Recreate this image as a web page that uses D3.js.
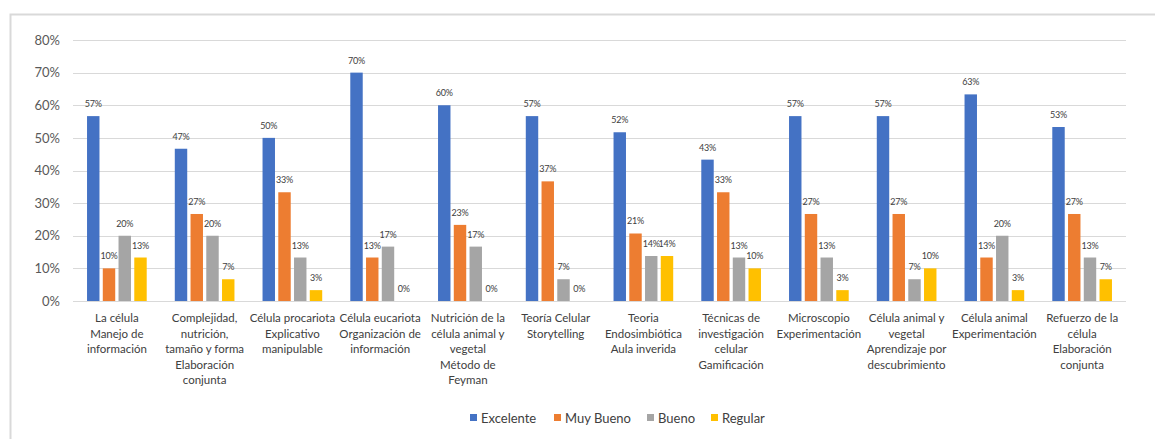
<!DOCTYPE html>
<html>
<head>
<meta charset="utf-8">
<script src="https://cdn.jsdelivr.net/npm/d3@7"></script>
<style>
  body { margin: 0; background: #fff; }
  svg { display: block; font-family: Lato, "Open Sans", sans-serif; }
</style>
</head>
<body>
<svg id="chart" width="1155" height="439"></svg>
<script>
// Category labels (line breaks as in the original)
const categories = [
    ["La célula", "Manejo de", "información"],
    ["Complejidad,", "nutrición,", "tamaño y forma", "Elaboración", "conjunta"],
    ["Célula procariota", "Explicativo", "manipulable"],
    ["Célula eucariota", "Organización de", "información"],
    ["Nutrición de la", "célula animal y", "vegetal", "Método de", "Feyman"],
    ["Teoría Celular", "Storytelling"],
    ["Teoria", "Endosimbiótica", "Aula inverida"],
    ["Técnicas de", "investigación", "celular", "Gamificación"],
    ["Microscopio", "Experimentación"],
    ["Célula animal y", "vegetal", "Aprendizaje por", "descubrimiento"],
    ["Célula animal", "Experimentación"],
    ["Refuerzo de la", "célula", "Elaboración", "conjunta"]
];

const seriesNames = ["Excelente", "Muy Bueno", "Bueno", "Regular"];
const seriesColors = ["#4472c4", "#ed7d31", "#a5a5a5", "#ffc000"];

const excelente = [0.5667, 0.4667, 0.5000, 0.7000, 0.6000, 0.5667, 0.5172, 0.4333, 0.5667, 0.5667, 0.6333, 0.5333];
const muyBueno  = [0.1000, 0.2667, 0.3333, 0.1333, 0.2333, 0.3667, 0.2069, 0.3333, 0.2667, 0.2667, 0.1333, 0.2667];
const bueno     = [0.2000, 0.2000, 0.1333, 0.1667, 0.1667, 0.0667, 0.1379, 0.1333, 0.1333, 0.0667, 0.2000, 0.1333];
const regular   = [0.1333, 0.0667, 0.0333, 0.0000, 0.0000, 0.0000, 0.1379, 0.1000, 0.0333, 0.1000, 0.0333, 0.0667];

const yTicks = [0, 0.1, 0.2, 0.3, 0.4, 0.5, 0.6, 0.7, 0.8];

const series = [excelente, muyBueno, bueno, regular];

const svg = d3.select("#chart");

// chart frame (runs off the right/bottom of the picture)
svg.append("rect")
    .attr("x", 10.5).attr("y", 14.5)
    .attr("width", 1200).attr("height", 500)
    .attr("fill", "none")
    .attr("stroke", "#d9d9d9")
    .attr("stroke-width", 2);

const plot = { left: 73, right: 1126, top: 40, bottom: 301 };

const x = d3.scaleBand()
    .domain(d3.range(categories.length))
    .range([plot.left, plot.right])
    .paddingInner(0)
    .paddingOuter(0);

const inner = d3.scaleBand()
    .domain(d3.range(series.length))
    .range([x.bandwidth() * 0.16, x.bandwidth() * 0.84])
    .paddingInner(0.21);

const y = d3.scaleLinear()
    .domain([0, 0.8])
    .range([plot.bottom, plot.top]);

// gridlines
svg.append("g")
    .selectAll("line")
    .data(yTicks)
    .enter().append("line")
    .attr("x1", plot.left).attr("x2", plot.right)
    .attr("y1", d => Math.round(y(d)) + 0.5)
    .attr("y2", d => Math.round(y(d)) + 0.5)
    .attr("stroke", "#d9d9d9")
    .attr("stroke-width", 1.2);

// y axis labels
const yAxis = svg.append("g")
    .attr("transform", `translate(${plot.left - 13},0)`)
    .call(d3.axisLeft(y).tickValues(yTicks).tickFormat(d3.format(".0%")).tickSize(0).tickPadding(0));
yAxis.select(".domain").remove();
yAxis.selectAll("text")
    .attr("fill", "#595959")
    .style("font-size", "13px")
    .style("font-family", "Lato, sans-serif");

// bars + labels
const groups = svg.append("g")
    .selectAll(".cat")
    .data(categories)
    .enter().append("g")
    .attr("class", "cat")
    .attr("transform", (d, i) => `translate(${x(i)},0)`);

series.forEach((vals, s) => {
    groups.append("rect")
        .attr("x", inner(s))
        .attr("width", inner.bandwidth())
        .attr("y", (d, i) => y(vals[i]))
        .attr("height", (d, i) => plot.bottom - y(vals[i]))
        .attr("fill", seriesColors[s]);

    groups.append("text")
        .attr("x", inner(s) + inner.bandwidth() / 2)
        .attr("y", (d, i) => y(vals[i]) - 9)
        .attr("text-anchor", "middle")
        .attr("fill", "#404040")
        .style("font-size", "9px")
        .style("letter-spacing", "-0.2px")
        .text((d, i) => Math.round(vals[i] * 100) + "%");
});

// category labels
groups.append("text")
    .attr("text-anchor", "middle")
    .attr("fill", "#404040")
    .style("font-size", "11.5px")
    .selectAll("tspan")
    .data(d => d)
    .enter().append("tspan")
    .attr("x", x.bandwidth() / 2)
    .attr("y", (d, i) => 322 + i * 15.5)
    .text(d => d);

// legend
const legendX = [470, 554, 647, 711];
const legend = svg.append("g")
    .selectAll(".legend-item")
    .data(seriesNames)
    .enter().append("g")
    .attr("class", "legend-item")
    .attr("transform", (d, i) => `translate(${legendX[i]},418)`);

legend.append("rect")
    .attr("x", 0).attr("y", -4)
    .attr("width", 7).attr("height", 7)
    .attr("fill", (d, i) => seriesColors[i]);

legend.append("text")
    .attr("x", 11)
    .attr("y", 4.5)
    .attr("fill", "#404040")
    .style("font-size", "13px")
    .text(d => d);
</script>
</body>
</html>
